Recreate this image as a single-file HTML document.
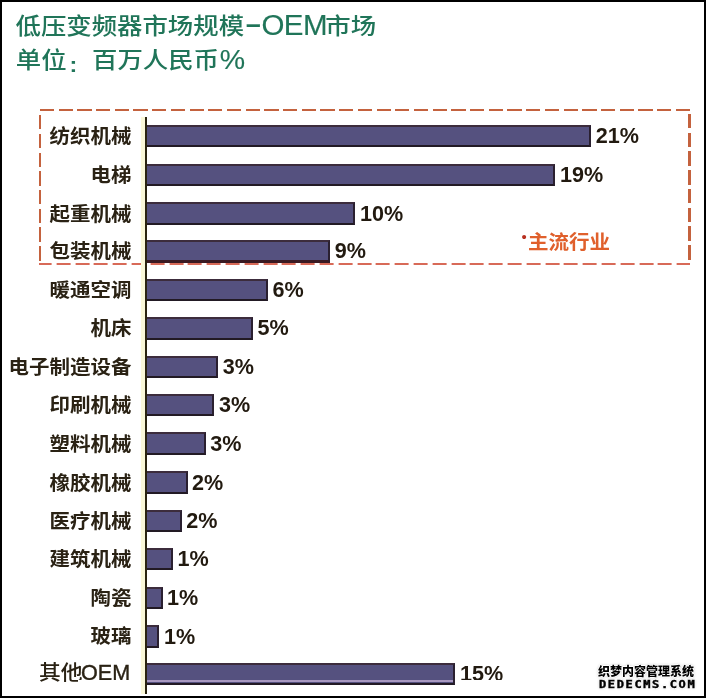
<!DOCTYPE html>
<html><head><meta charset="utf-8">
<style>
html,body{margin:0;padding:0;}
body{width:706px;height:698px;overflow:hidden;background:#fff;position:relative;}
div{position:absolute;}
.frame{left:0;top:0;width:702px;height:694px;border:2px solid #000;}
.t{font-family:"Noto Sans CJK SC",sans-serif;font-size:25.4px;line-height:40px;height:40px;color:#207559;white-space:nowrap;font-weight:500;transform:scaleY(0.89);transform-origin:0 25px;}
.tl{font-family:"Liberation Sans",sans-serif;font-size:28.5px;line-height:40px;height:40px;color:#207559;white-space:nowrap;-webkit-text-stroke:0.15px #207559;}
.axis{left:144.6px;top:117px;width:2.4px;height:577px;background:#2a2410;}
.halo{left:141px;top:117px;width:3.6px;height:577px;background:#faf8d8;}
.dh{height:2.4px;background:repeating-linear-gradient(90deg,#c4623e 0 14.2px,transparent 14.2px 18.7px);}
.dv{width:2.4px;background:repeating-linear-gradient(180deg,#c4623e 0 14.3px,transparent 14.3px 18.75px);}
.bar{left:147px;background:#55517f;border-top:2px solid #3c2c3c;border-bottom:2px solid #221a24;border-right:2px solid #2a2030;box-sizing:content-box;}
.lab{right:574.5px;height:40px;line-height:40px;font-family:"Liberation Sans","Noto Sans CJK SC",sans-serif;font-size:20.5px;font-weight:700;color:#2a2214;white-space:nowrap;transform:scaleY(0.92);transform-origin:0 20px;}
.oem{font-size:22px;font-weight:400;-webkit-text-stroke:0.4px #2a2214;display:inline-block;transform:scale(0.98,1.13);transform-origin:0 27px;margin-left:-1.8px}
.pct{height:40px;line-height:40px;font-family:"Liberation Sans",sans-serif;font-size:21.6px;font-weight:700;color:#221a10;white-space:nowrap;transform:scaleY(1.05);transform-origin:0 20px;}
.note{left:528px;top:219.6px;font-family:"Noto Sans CJK SC",sans-serif;font-size:20.5px;line-height:40px;color:#e0602c;font-weight:700;white-space:nowrap;transform:scaleY(0.95);transform-origin:0 20px;}
.dot{left:521.6px;top:228.8px;font-family:"Liberation Sans",sans-serif;font-size:15px;line-height:16px;color:#b83020;}
.wm{font-family:"Liberation Sans","Noto Sans CJK SC",sans-serif;font-weight:900;color:#000;white-space:nowrap;text-shadow:1px 0 0 #fff,-1px 0 0 #fff,0 1px 0 #fff,0 -1px 0 #fff,0 0 3px #999;}
</style></head><body>
<div class="t" style="left:15.5px;top:3.7px">低压变频器市场规模</div>
<div class="tl" style="left:246px;top:5.3px;font-size:24px;font-weight:700;transform:scale(1.1,1.05);transform-origin:1px 22.5px">–</div>
<div class="tl" style="left:261.5px;top:5.2px;font-size:29.5px;letter-spacing:-0.6px">OEM</div>
<div class="t" style="left:325.3px;top:3.7px">市场</div>
<div class="t" style="left:15.8px;top:38px">单位</div>
<div class="tl" style="left:69.8px;top:44.8px;font-size:22px;font-weight:700;transform:scaleY(0.92);transform-origin:0 31px">:</div>
<div class="t" style="left:92px;top:38px">百万人民币</div>
<div class="tl" style="left:219.8px;top:39.3px">%</div>
<div class="dh" style="left:39.6px;top:108.6px;width:651px"></div>
<div class="dh" style="left:38.6px;top:263px;width:651px;height:2px;background:repeating-linear-gradient(90deg,#d86a58 0 14px,transparent 14px 18.8px);background-position:-1.4px 0"></div>
<div class="dv" style="left:38.6px;top:115.3px;height:146px"></div>
<div class="dv" style="left:688.4px;top:114px;height:148px"></div>
<div class="halo"></div>
<div class="axis"></div>
<div class="bar" style="top:125px;height:18px;width:442px"></div>
<div class="lab" style="top:117.1px">纺织机械</div>
<div class="pct" style="top:116.3px;left:595.7px">21%</div>
<div class="bar" style="top:164px;height:18px;width:406px"></div>
<div class="lab" style="top:156.0px">电梯</div>
<div class="pct" style="top:155.2px;left:559.9px">19%</div>
<div class="bar" style="top:202px;height:19px;width:206px"></div>
<div class="lab" style="top:194.7px">起重机械</div>
<div class="pct" style="top:193.8px;left:359.9px">10%</div>
<div class="bar" style="top:240px;height:18px;width:181px;border-bottom:3px solid #3a1a22"></div>
<div class="lab" style="top:232.2px">包装机械</div>
<div class="pct" style="top:231.4px;left:334.7px">9%</div>
<div class="bar" style="top:279px;height:18px;width:119px"></div>
<div class="lab" style="top:271.1px">暖通空调</div>
<div class="pct" style="top:270.3px;left:272.5px">6%</div>
<div class="bar" style="top:317px;height:19px;width:104px"></div>
<div class="lab" style="top:309.2px">机床</div>
<div class="pct" style="top:308.4px;left:257.6px">5%</div>
<div class="bar" style="top:356px;height:18px;width:69px"></div>
<div class="lab" style="top:348.0px">电子制造设备</div>
<div class="pct" style="top:347.2px;left:222.8px">3%</div>
<div class="bar" style="top:394px;height:18px;width:65px"></div>
<div class="lab" style="top:386.1px">印刷机械</div>
<div class="pct" style="top:385.3px;left:218.9px">3%</div>
<div class="bar" style="top:432px;height:19px;width:57px"></div>
<div class="lab" style="top:424.8px">塑料机械</div>
<div class="pct" style="top:423.9px;left:210.2px">3%</div>
<div class="bar" style="top:471px;height:19px;width:39px"></div>
<div class="lab" style="top:463.6px">橡胶机械</div>
<div class="pct" style="top:462.8px;left:192.0px">2%</div>
<div class="bar" style="top:510px;height:18px;width:33px"></div>
<div class="lab" style="top:501.9px">医疗机械</div>
<div class="pct" style="top:501.1px;left:186.3px">2%</div>
<div class="bar" style="top:548px;height:18px;width:24px"></div>
<div class="lab" style="top:539.9px">建筑机械</div>
<div class="pct" style="top:539.1px;left:177.4px">1%</div>
<div class="bar" style="top:587px;height:18px;width:14px"></div>
<div class="lab" style="top:579.0px">陶瓷</div>
<div class="pct" style="top:578.2px;left:167.1px">1%</div>
<div class="bar" style="top:625px;height:19px;width:10px"></div>
<div class="lab" style="top:617.3px">玻璃</div>
<div class="pct" style="top:616.5px;left:163.9px">1%</div>
<div class="bar" style="top:663px;height:18px;width:306px"></div>
<div class="lab" style="top:653.5px;right:575px;font-weight:500;font-size:21.8px">其他<span class="oem">OEM</span></div>
<div class="pct" style="top:654.2px;left:459.9px">15%</div>
<div style="left:147px;top:680px;width:306px;height:2px;background:#a898c0"></div>
<div style="left:78px;top:680px;width:54px;height:4px;background:#fff"></div>
<div style="left:458px;top:680px;width:50px;height:4px;background:#fff"></div>
<div class="dot">•</div>
<div class="note">主流行业</div>
<div class="wm" style="left:598px;top:663.5px;font-size:12px;line-height:16px;">织梦内容管理系统</div>
<div class="wm" style="left:599px;top:677px;font-family:'DejaVu Sans Mono',monospace;font-size:12px;line-height:14px;letter-spacing:1.62px;font-weight:700;-webkit-text-stroke:0.5px #000;transform:scaleY(0.8);transform-origin:0 10px">DEDECMS.COM</div>
<div class="frame"></div>
</body></html>
